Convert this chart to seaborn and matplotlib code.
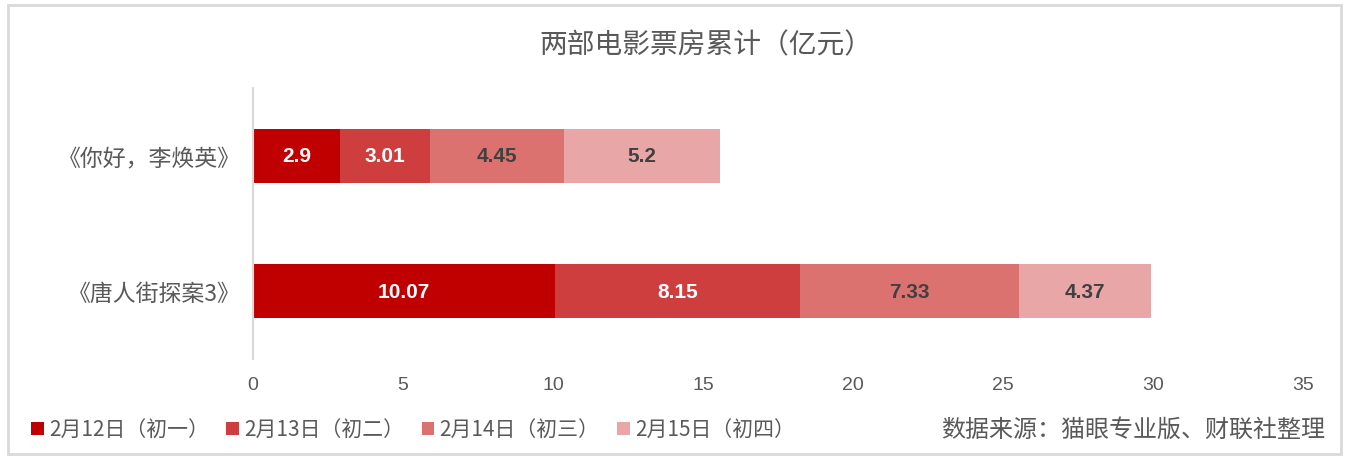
import numpy as np
import matplotlib
matplotlib.use('Agg')
import matplotlib.pyplot as plt
import seaborn as sns
import pandas as pd
from matplotlib.patches import Patch, Rectangle

# === Data ===
movies = ['《你好，李焕英》', '《唐人街探案3》']
days = ['2月12日（初一）', '2月13日（初二）', '2月14日（初三）', '2月15日（初四）']
day1 = [2.9, 10.07]
day2 = [3.01, 8.15]
day3 = [4.45, 7.33]
day4 = [5.2, 4.37]
xticks = [0, 5, 10, 15, 20, 25, 30, 35]

title = '两部电影票房累计（亿元）'
source = '数据来源：猫眼专业版、财联社整理'

colors = ['#C00000', '#CF3E3E', '#DB7270', '#E8A6A6']
label_colors = ['white', 'white', '#404040', '#404040']

# === Style ===
sns.set_style('white')
plt.rcParams['font.family'] = ['Noto Sans CJK SC', 'DejaVu Sans']
num_font = ['Liberation Sans', 'DejaVu Sans']

# === Build cumulative table ===
df = pd.DataFrame({'movie': movies, days[0]: day1, days[1]: day2,
                   days[2]: day3, days[3]: day4})
vals = df[days].to_numpy()
cum = vals.cumsum(axis=1)

W, H = 1352, 464
fig = plt.figure(figsize=(W / 100, H / 100), dpi=100)
ax = fig.add_axes([253 / W, 1 - 360 / H, (1303 - 253) / W, (360 - 89) / H])

# stacked bars: draw largest cumulative first, overlay smaller ones
for i in range(len(days) - 1, -1, -1):
    sns.barplot(x=cum[:, i], y=df['movie'], color=colors[i], width=0.4,
                orient='h', ax=ax, saturation=1, edgecolor='none')

# value labels centred in each segment
for r in range(len(movies)):
    for i in range(len(days)):
        center = cum[r, i] - vals[r, i] / 2
        ax.text(center, r, f'{vals[r, i]:g}', ha='center', va='center',
                fontsize=15, fontweight='bold', color=label_colors[i],
                family=num_font)

ax.set_xlim(0, 35)
ax.set_xticks(xticks)
ax.set_xticklabels([str(t) for t in xticks], family=num_font, fontsize=14,
                   color='#595959')
ax.set_xlabel('')
ax.set_ylabel('')
ax.tick_params(axis='x', length=0, pad=12)
ax.tick_params(axis='y', length=0, pad=9, labelsize=16.5, labelcolor='#595959')

for s in ['top', 'right', 'bottom']:
    ax.spines[s].set_visible(False)
ax.spines['left'].set_color('#D9D9D9')
ax.spines['left'].set_linewidth(1.5)

# === Title / source ===
fig.text(706 / W, 1 - 45 / H, title, ha='center', va='center',
         fontsize=20, color='#595959')
fig.text(1325 / W, 1 - 430 / H, source, ha='right', va='center',
         fontsize=17.3, color='#595959')

# === Legend ===
handles = [Patch(facecolor=c, edgecolor='none') for c in colors]
fig.legend(handles, days, loc='center left', bbox_to_anchor=(31 / W, 1 - 431 / H),
           ncol=4, frameon=False, fontsize=15, handlelength=0.6, handleheight=0.6,
           handletextpad=0.25, columnspacing=0.85, borderpad=0, borderaxespad=0,
           labelcolor='#595959')

# === Figure border ===
fig.patches.append(Rectangle((8 / W, 1 - 455 / H), (1341 - 8) / W, (455 - 6) / H,
                             transform=fig.transFigure, fill=False,
                             edgecolor='#D9D9D9', linewidth=2, zorder=0))

fig.savefig('out.png', dpi=100)
plt.close(fig)
